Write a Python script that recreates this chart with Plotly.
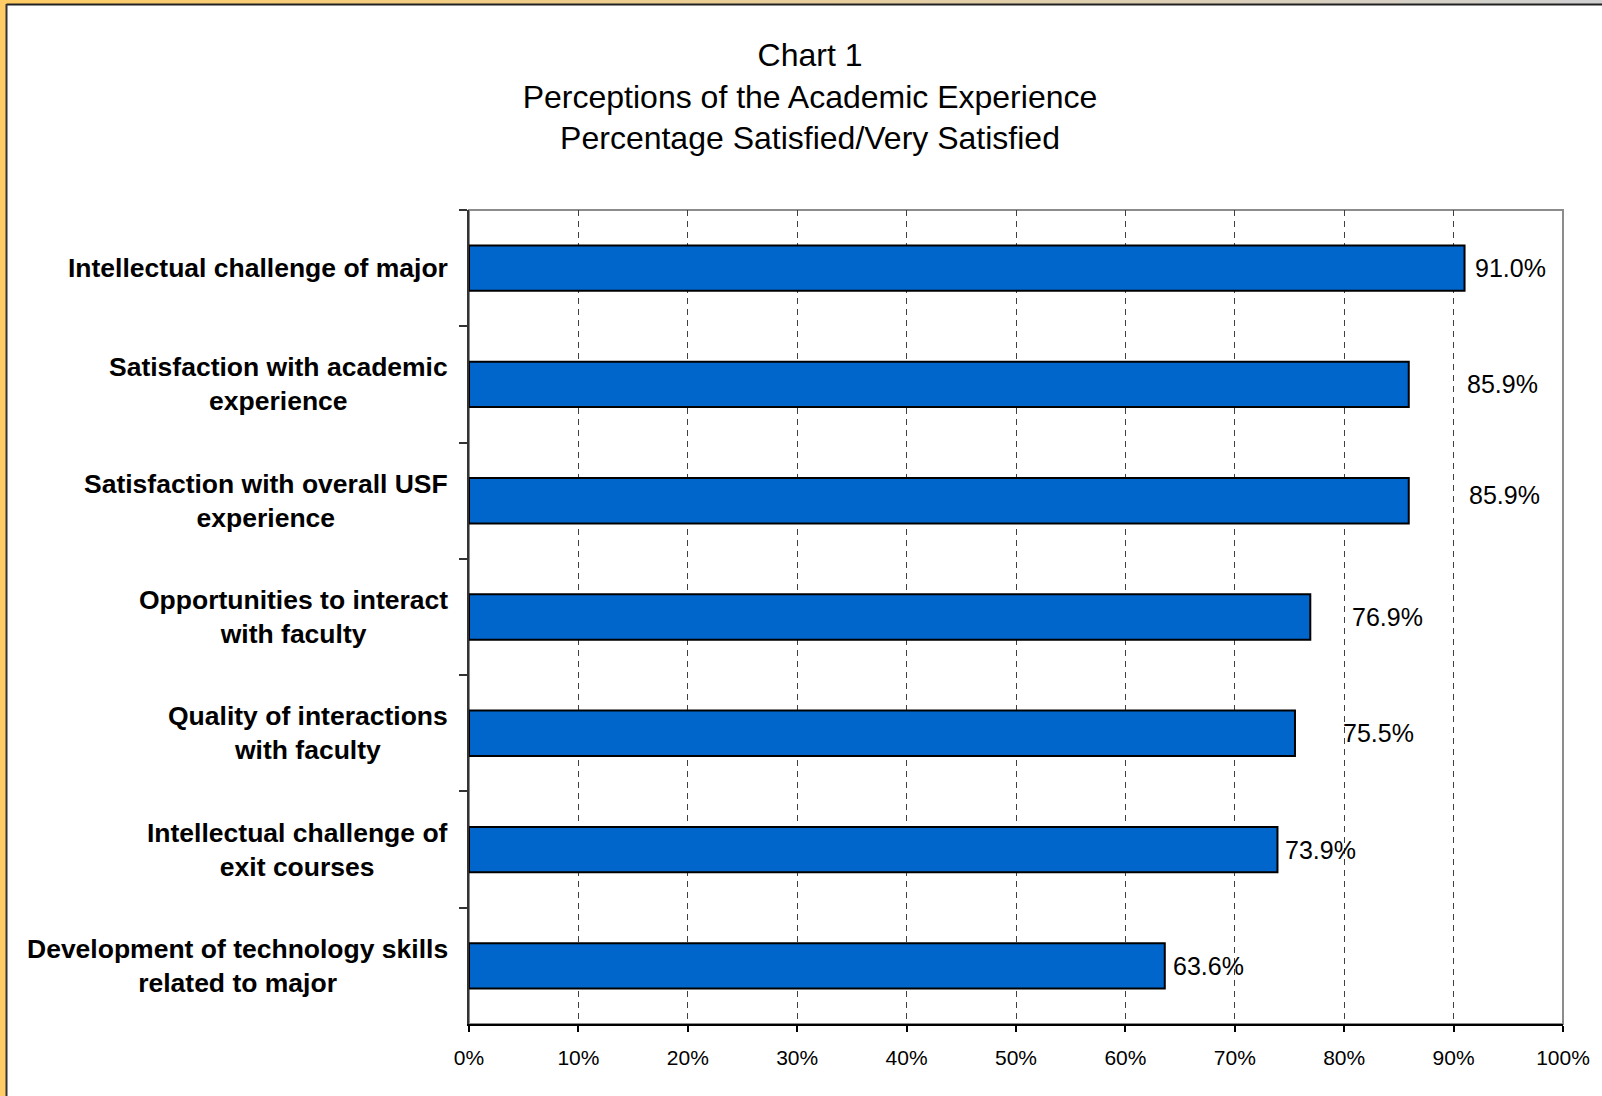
import plotly.graph_objects as go

# Survey items, top to bottom, with line breaks for the axis labels
categories = [
    "Intellectual challenge of major",
    "Satisfaction with academic<br>experience",
    "Satisfaction with overall USF<br>experience",
    "Opportunities to interact<br>with faculty",
    "Quality of interactions<br>with faculty",
    "Intellectual challenge of<br>exit courses",
    "Development of technology skills<br>related to major",
]
pct_satisfied = [91.0, 85.9, 85.9, 76.9, 75.5, 73.9, 63.6]
x_ticks = [0, 10, 20, 30, 40, 50, 60, 70, 80, 90, 100]
x_tick_text = [f"{t}%" for t in x_ticks]

# hand-placed value label offsets (pixels)
label_dx = [8, 56, 58, 40, 46, 6, 6]
label_dy = [0, 0, 6, 0, 0, 0, 0]

W, H = 1602, 1096
L, R, T, B = 469, 39, 210, 72
PW, PH = W - L - R, H - T - B

FONT = "Liberation Sans, Arial, sans-serif"


def px_x(px):
    return (px - L) / PW


def px_y(py):
    return 1 - (py - T) / PH


fig = go.Figure()
fig.add_trace(go.Bar(
    x=pct_satisfied,
    y=categories,
    orientation="h",
    marker=dict(color="#0066CC", line=dict(color="#000000", width=2)),
    hoverinfo="x+y",
))

annotations = []
for cat in categories:
    annotations.append(dict(
        xref="paper", yref="y", x=0, y=cat, xanchor="right", yanchor="middle",
        xshift=-19, text=f"<b>{cat}</b>", showarrow=False, align="center",
        font=dict(family=FONT, size=26.5, color="#000000"),
    ))
for cat, v, dx, dy in zip(categories, pct_satisfied, label_dx, label_dy):
    annotations.append(dict(
        xref="x", yref="y", x=v, y=cat, xanchor="left", yanchor="middle",
        xshift=dx, yshift=dy, text=f"{v:.1f}%", showarrow=False,
        font=dict(family=FONT, size=25, color="#000000"),
    ))

shapes = []
# plot-area border (top/right in grey)
shapes.append(dict(type="rect", xref="paper", yref="paper", x0=0, x1=1, y0=0, y1=1,
                   line=dict(color="#8C8C8C", width=2), layer="below"))
# window frame: orange strip on the left
shapes.append(dict(type="rect", xref="paper", yref="paper",
                   x0=px_x(0), x1=px_x(6), y0=px_y(0), y1=px_y(H),
                   fillcolor="#FFCC66", line=dict(width=0), layer="above"))
# top strip fading from orange to grey
n_seg = 40
c0 = (255, 204, 102)
c1 = (208, 208, 208)
for i in range(n_seg):
    f = i / (n_seg - 1)
    col = tuple(round(a + (b - a) * f) for a, b in zip(c0, c1))
    shapes.append(dict(type="rect", xref="paper", yref="paper",
                       x0=px_x(W * i / n_seg), x1=px_x(W * (i + 1) / n_seg + 1),
                       y0=px_y(0), y1=px_y(4),
                       fillcolor="rgb(%d,%d,%d)" % col, line=dict(width=0), layer="above"))
# dark inner frame lines
shapes.append(dict(type="line", xref="paper", yref="paper",
                   x0=px_x(6.5), x1=px_x(W), y0=px_y(4.5), y1=px_y(4.5),
                   line=dict(color="#222222", width=2), layer="above"))
shapes.append(dict(type="line", xref="paper", yref="paper",
                   x0=px_x(6.5), x1=px_x(6.5), y0=px_y(4), y1=px_y(H),
                   line=dict(color="#333333", width=2), layer="above"))

fig.update_layout(
    width=W, height=H,
    margin=dict(l=L, r=R, t=T, b=B, autoexpand=False),
    paper_bgcolor="#FFFFFF", plot_bgcolor="#FFFFFF",
    showlegend=False,
    bargap=0.61,
    title=dict(
        text="Chart 1<br>Perceptions of the Academic Experience<br>Percentage Satisfied/Very Satisfied",
        x=810 / W, xanchor="center", xref="container",
        y=1 - 66 / H, yanchor="middle", yref="container",
        font=dict(family=FONT, size=32, color="#000000"),
    ),
    xaxis=dict(
        range=[0, 100], tickvals=x_ticks, ticktext=x_tick_text,
        showgrid=True, gridcolor="#404040", gridwidth=1, griddash="6px,5px",
        showline=True, linecolor="#000000", linewidth=2,
        ticks="outside", ticklen=6, tickcolor="#000000", tickwidth=1.5,
        ticklabelstandoff=8,
        tickfont=dict(family=FONT, size=21, color="#000000"),
        zeroline=False, fixedrange=True,
    ),
    yaxis=dict(
        categoryorder="array", categoryarray=categories, autorange="reversed",
        showticklabels=False, tickson="boundaries",
        ticks="outside", ticklen=8, tickcolor="#333333", tickwidth=1.5,
        showline=True, linecolor="#333333", linewidth=2,
        showgrid=False, zeroline=False, fixedrange=True,
    ),
    annotations=annotations,
    shapes=shapes,
)

fig.write_html("out.html")
